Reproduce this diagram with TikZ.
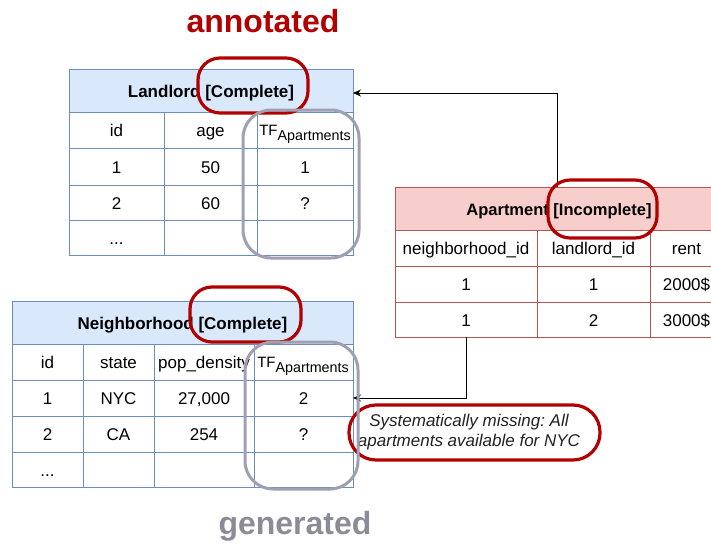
\documentclass[tikz,border=0pt]{standalone}
\usepackage{fontspec}
\setmainfont{Liberation Sans}
\usetikzlibrary{arrows.meta}
\frenchspacing

\definecolor{bfill}{HTML}{DAE8FC}
\definecolor{bstroke}{HTML}{6C8EBF}
\definecolor{rfill}{HTML}{F8CECC}
\definecolor{rstroke}{HTML}{B85450}
\definecolor{markred}{HTML}{B20000}
\definecolor{markgray}{RGB}{160,160,180}
\definecolor{gentext}{RGB}{140,140,152}
\definecolor{notetext}{HTML}{222222}

% table cell from corner (x0,y0) to (x1,y1)
\newcommand\tcell[7]{%
  \node[#1, minimum width={(#5-#3)*1pt}, minimum height={(#6-#4)*1pt}]
    (#2) at ({(#3+#5)/2},{(#4+#6)/2}) {#7};}
\newcommand\tfcol{\fontsize{15}{17}\selectfont TF\raisebox{-0.36em}{\fontsize{14.3}{16}\selectfont Apartments}}

\tikzset{
  cellbase/.style={inner sep=0pt, outer sep=0pt, line width=1pt,
    text height=15pt, text depth=2pt,
    font=\fontsize{17}{19}\selectfont},
  bcell/.style={cellbase, draw=bstroke, fill=white},
  bhead/.style={cellbase, draw=bstroke, fill=bfill, font=\fontsize{17}{19}\selectfont\bfseries},
  rcell/.style={cellbase, draw=rstroke, fill=white},
  rhead/.style={cellbase, draw=rstroke, fill=rfill, font=\fontsize{16.5}{19}\selectfont\bfseries},
  tflabel/.style={inner sep=0pt, text height=11pt, text depth=8pt},
  redmark/.style={draw=markred, line width=3.2pt, rounded corners=22pt, inner sep=0pt},
  graymark/.style={draw=markgray, line width=3pt, rounded corners=28pt, inner sep=0pt},
  arr/.style={draw=black, line width=1pt, -{Stealth[length=8pt,width=7pt]}},
}

\begin{document}
\begin{tikzpicture}[x=1pt,y=-1pt]
\useasboundingbox (0,0) rectangle (711,543);
\clip (0,0) rectangle (711,543);

% Landlord table
\tcell{bhead}{L-h}{69}{69}{353}{112}{Landlord [Complete]}
\tcell{bcell}{L-0-1}{69}{112}{164}{148}{id}
\tcell{bcell}{L-0-2}{164}{112}{257}{148}{age}
\tcell{bcell}{L-0-3}{257}{112}{353}{148}{}
\node[tflabel] (L-tf) at (305,134) {\tfcol};
\tcell{bcell}{L-1-1}{69}{148}{164}{185}{1}
\tcell{bcell}{L-1-2}{164}{148}{257}{185}{50}
\tcell{bcell}{L-1-3}{257}{148}{353}{185}{1}
\tcell{bcell}{L-2-1}{69}{185}{164}{220}{2}
\tcell{bcell}{L-2-2}{164}{185}{257}{220}{60}
\tcell{bcell}{L-2-3}{257}{185}{353}{220}{?}
\tcell{bcell}{L-3-1}{69}{220}{164}{255}{...}
\tcell{bcell}{L-3-2}{164}{220}{257}{255}{}
\tcell{bcell}{L-3-3}{257}{220}{353}{255}{}

% Apartment table
\tcell{rhead}{A-h}{395}{187}{723}{230}{Apartment [Incomplete]}
\tcell{rcell}{A-0-1}{395}{230}{537}{266}{neighborhood\_id}
\tcell{rcell}{A-0-2}{537}{230}{650}{266}{landlord\_id}
\tcell{rcell}{A-0-3}{650}{230}{723}{266}{rent}
\tcell{rcell}{A-1-1}{395}{266}{537}{302}{1}
\tcell{rcell}{A-1-2}{537}{266}{650}{302}{1}
\tcell{rcell}{A-1-3}{650}{266}{723}{302}{2000\$}
\tcell{rcell}{A-2-1}{395}{302}{537}{337}{1}
\tcell{rcell}{A-2-2}{537}{302}{650}{337}{2}
\tcell{rcell}{A-2-3}{650}{302}{723}{337}{3000\$}

% Neighborhood table
\tcell{bhead}{N-h}{12}{301}{353}{344}{Neighborhood [Complete]}
\tcell{bcell}{N-0-1}{12}{344}{83}{380}{id}
\tcell{bcell}{N-0-2}{83}{344}{154}{380}{state}
\tcell{bcell}{N-0-3}{154}{344}{254}{380}{pop\_density}
\tcell{bcell}{N-0-4}{254}{344}{353}{380}{}
\node[tflabel] (N-tf) at (303,366) {\tfcol};
\tcell{bcell}{N-1-1}{12}{380}{83}{416}{1}
\tcell{bcell}{N-1-2}{83}{380}{154}{416}{NYC}
\tcell{bcell}{N-1-3}{154}{380}{254}{416}{27,000}
\tcell{bcell}{N-1-4}{254}{380}{353}{416}{2}
\tcell{bcell}{N-2-1}{12}{416}{83}{452}{2}
\tcell{bcell}{N-2-2}{83}{416}{154}{452}{CA}
\tcell{bcell}{N-2-3}{154}{416}{254}{452}{254}
\tcell{bcell}{N-2-4}{254}{416}{353}{452}{?}
\tcell{bcell}{N-3-1}{12}{452}{83}{487}{...}
\tcell{bcell}{N-3-2}{83}{452}{154}{487}{}
\tcell{bcell}{N-3-3}{154}{452}{254}{487}{}
\tcell{bcell}{N-3-4}{254}{452}{353}{487}{}

% references from Apartment
\draw[arr] ([xshift=-2pt]A-h.north) |- ([yshift=-2.5pt]L-h.east);
\draw[arr] (A-2-1.south) |- (N-1-4.east);

% note
\node[font=\fontsize{17}{20}\selectfont\itshape, text=notetext, align=center]
  (note) at (469,432) {Systematically missing: All\\apartments available for NYC};
\node[redmark, rounded corners=27pt, minimum width=251pt, minimum height=55pt]
  (note-ring) at (474.5,432.5) {};

% highlight rings
\node[redmark, minimum width=110pt, minimum height=55pt] (L-ring) at (253,85.5) {};
\node[redmark, minimum width=109pt, minimum height=58pt] (A-ring) at (602.5,209) {};
\node[redmark, minimum width=111pt, minimum height=55pt] (N-ring) at (245.5,314.5) {};
\node[graymark, minimum width=116pt, minimum height=148pt] (L-tf-ring) at (301,184) {};
\node[graymark, minimum width=113pt, minimum height=147pt] (N-tf-ring) at (301.5,415.5) {};

% captions
\node[font=\fontsize{32}{34}\selectfont\bfseries, text=markred] (annotated) at (263,21) {annotated};
\node[font=\fontsize{32}{34}\selectfont\bfseries, text=gentext] (generated) at (295,526) {generated};
\end{tikzpicture}
\end{document}
